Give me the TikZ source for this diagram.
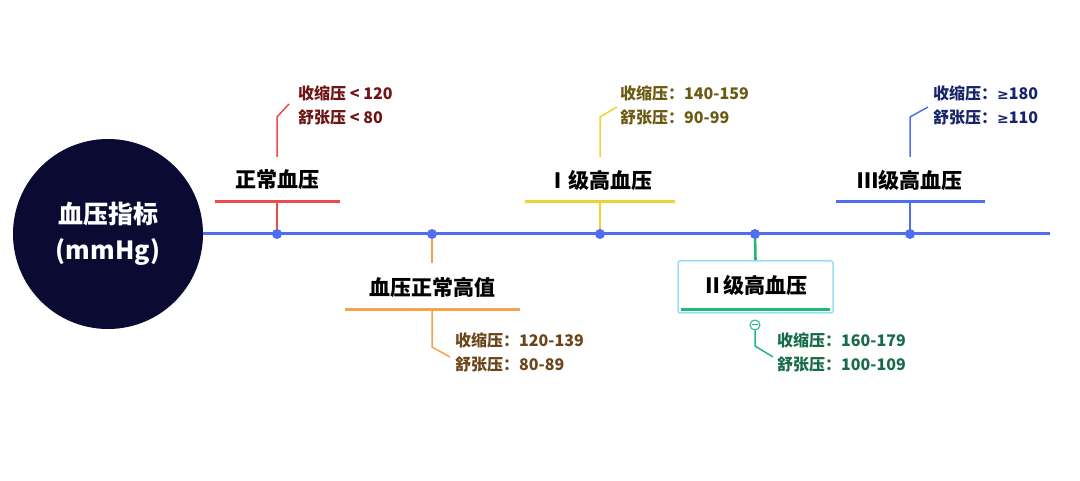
\documentclass[tikz,border=0pt]{standalone}
\usepackage{fontspec}
\setmainfont{Noto Sans CJK SC}
\newfontfamily\cjkbold{Noto Sans CJK SC Black}
\newfontfamily\symfont{DejaVu Sans Bold}
\usetikzlibrary{calc}
\definecolor{axisblue}{HTML}{4F6EF2}
\definecolor{hubnavy}{HTML}{0A0A33}
\definecolor{cred}{HTML}{EE4A48}\definecolor{tred}{HTML}{6E1414}
\definecolor{corange}{HTML}{F5A14F}\definecolor{torange}{HTML}{6B4419}
\definecolor{cyellow}{HTML}{F2D231}\definecolor{tyellow}{HTML}{6B5A12}
\definecolor{cgreen}{HTML}{1DBA7C}\definecolor{tgreen}{HTML}{186B48}
\definecolor{cblue}{HTML}{4F6EF2}\definecolor{tblue}{HTML}{16246B}
\definecolor{boxcyan}{HTML}{9BDDF5}
\tikzset{
  grade/.style={font=\cjkbold\fontsize{21}{24}\selectfont,inner sep=0pt},
  values/.style={font=\cjkbold\fontsize{16}{24}\selectfont,align=left,anchor=north west,inner sep=0pt},
  stem/.style={line width=2.6pt},
  bar/.style={line width=3pt},
  leader/.style={line width=1.5pt},
  dot/.style={circle,fill=axisblue,inner sep=0pt,minimum size=10pt}
}
\begin{document}
\begin{tikzpicture}[x=1pt,y=-1pt]
\useasboundingbox (0,0) rectangle (1080,481);
% axis and hub
\coordinate (start) at (200,234);
\coordinate (end) at (1050,234);
\draw[axisblue,line width=3pt] (start) -- (end);
\node[circle,fill=hubnavy,minimum size=190pt,align=center,text=white,
  font=\cjkbold\fontsize{25}{36}\selectfont] (hub) at (108,234) {血压指标\\(mmHg)};
\foreach \x/\n in {277/d1,432/d2,600/d3,755/d4,910/d5}
  \coordinate (\n) at (\x,234);

% normal
\node[grade] (g1) at (277,180) {正常血压};
\coordinate (b1l) at (215,202); \coordinate (b1r) at (340,202);
\draw[cred,bar] (b1l) -- (b1r);
\draw[cred,stem] (d1) -- (277,202);
\coordinate (l1) at (289,104);
\draw[cred,leader] (277,157) -- (277,117) -- (l1);
\node[values,text=tred] (v1) at (298,85) {收缩压 < 120\\舒张压 < 80};

% high normal
\node[grade] (g2) at (432,287) {血压正常高值};
\draw[corange,bar] (345,310) -- (520,310);
\draw[corange,stem] (d2) -- (432,263);
\coordinate (l2) at (450,357);
\draw[corange,leader] (432,310) -- (432,347) -- (l2);
\node[values,text=torange] (v2) at (455,332) {收缩压：120-139\\舒张压：80-89};

% grade I
\node[grade] (g3) at (600,180) {Ⅰ级高血压};
\draw[cyellow,bar] (525,202) -- (675,202);
\draw[cyellow,stem] (d3) -- (600,202);
\coordinate (l3) at (617,107);
\draw[cyellow,leader] (600,157) -- (600,117) -- (l3);
\node[values,text=tyellow] (v3) at (620,85) {收缩压：140-159\\舒张压：90-99};

% grade II
\node[draw=boxcyan,line width=1.5pt,rounded corners=2pt,minimum width=155pt,
  minimum height=52pt] (box4) at (755.5,287) {};
\node[grade] (g4) at (755,285) {Ⅱ级高血压};
\draw[cgreen,bar] (681,310) -- (830,310);
\draw[cgreen,stem] (d4) -- (box4.north);
\node[circle,draw=cgreen,fill=white,line width=1pt,minimum size=10pt,inner sep=0pt] (fold) at (755,325) {};
\draw[cgreen,line width=1pt] ($(fold)-(3,0)$) -- ($(fold)+(3,0)$);
\coordinate (l4) at (773,357);
\draw[cgreen,leader] (fold.south) -- (755,346) -- (l4);
\node[values,text=tgreen] (v4) at (777,332) {收缩压：160-179\\舒张压：100-109};

% grade III
\node[grade] (g5) at (910,180) {Ⅲ级高血压};
\draw[cblue,bar] (836,202) -- (985,202);
\draw[cblue,stem] (d5) -- (910,202);
\coordinate (l5) at (928,107);
\draw[cblue,leader] (910,157) -- (910,117) -- (l5);
\node[values,text=tblue] (v5) at (933,85) {收缩压：{\symfont\fontsize{14}{24}\selectfont ≥}180\\舒张压：{\symfont\fontsize{14}{24}\selectfont ≥}110};

\foreach \n in {d1,d2,d3,d4,d5}
  \node[dot] at (\n) {};
\end{tikzpicture}
\end{document}
